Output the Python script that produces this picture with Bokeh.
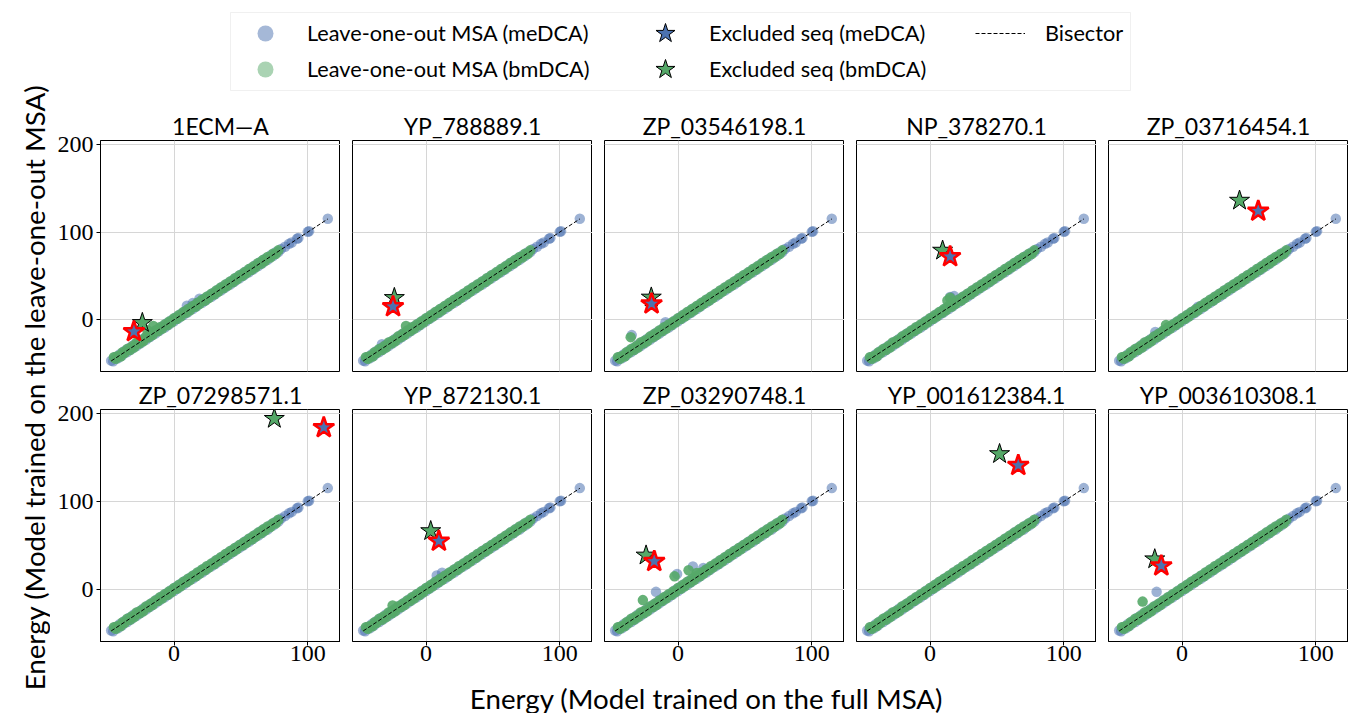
import math
from bokeh.plotting import figure
from bokeh.layouts import column, row
from bokeh.models import Range1d, Legend, LegendItem, Label, BoxAnnotation, FixedTicker
from bokeh.embed import file_html
from bokeh.resources import INLINE

# ---------------- data ----------------
titles = ["1ECM—A", "YP_788889.1", "ZP_03546198.1", "NP_378270.1", "ZP_03716454.1",
          "ZP_07298571.1", "YP_872130.1", "ZP_03290748.1", "YP_001612384.1", "YP_003610308.1"]

# energies of the MSA sequences (full model vs leave-one-out model), meDCA
me_full = [-47, -45.5, -44, -42, -40.5, -39, -37, -35, -33.5, -32,
           -30, -28, -26.5, -25, -23, -21, -19.5, -18, -16, -14,
           -12.5, -11, -9, -7, -5.5, -4, -2, 0, 1.5, 3,
           5, 7, 8.5, 10, 12, 14, 15.5, 17, 19, 21,
           22.5, 24, 26, 28, 29.5, 31, 33, 35, 36.5, 38,
           40, 42, 43.5, 45, 47, 49, 50.5, 52, 54, 56,
           57.5, 59, 61, 63, 64.5, 66, 68, 70, 72, 74,
           76, 78, 80, 83, 86, 88, 92, 93, 100, 101,
           115]
me_loo = [-46.6, -47.3, -42.4, -43.9, -39.2, -40.8, -35.6, -36.9, -32.1, -33.8,
          -28.4, -29.9, -25.1, -26.7, -21.5, -22.8, -18.0, -19.7, -14.6, -15.7,
          -11.1, -12.6, -7.6, -8.8, -4.1, -5.7, -0.6, -1.6, 2.9, 1.4,
          6.5, 5.3, 9.9, 8.4, 13.4, 12.3, 16.9, 15.4, 20.4, 19.3,
          23.9, 22.4, 27.4, 26.3, 30.9, 29.4, 34.4, 33.3, 37.9, 36.4,
          41.4, 40.3, 44.9, 43.4, 48.4, 47.3, 51.9, 50.4, 55.4, 54.3,
          58.9, 57.4, 62.4, 61.3, 65.9, 64.4, 69.4, 68.3, 73.2, 72.6,
          77.1, 77.2, 80.6, 83.4, 86.6, 88.2, 92.4, 93.2, 100.3, 100.9,
          115.2]

# bmDCA
bm_full = [-45, -43.5, -42, -40, -38.5, -37, -35, -33, -31.5, -30,
           -28, -26, -24.5, -23, -21, -19, -17.5, -16, -14, -12,
           -10.5, -9, -7, -5, -3.5, -2, 0, 2, 3.5, 5,
           7, 9, 10.5, 12, 14, 16, 17.5, 19, 21, 23,
           24.5, 26, 28, 30, 31.5, 33, 35, 37, 38.5, 40,
           42, 44, 45.5, 47, 49, 51, 52.5, 54, 56, 58,
           59.5, 61, 63, 65, 66.5, 68, 70, 72, 74, 76,
           78]
bm_loo = [-42.8, -44.5, -41.4, -41.8, -37.1, -37.9, -33.2, -34.4, -30.3, -31.6,
          -26.0, -27.2, -23.4, -24.6, -19.2, -20.1, -16.0, -17.5, -12.3, -13.1,
          -8.6, -10.2, -5.4, -6.3, -1.9, -3.2, 1.8, 0.9, 5.1, 3.8,
          8.9, 7.9, 12.2, 10.8, 15.8, 14.9, 19.3, 17.9, 22.8, 21.8,
          26.4, 24.9, 29.7, 28.8, 33.3, 31.9, 36.8, 35.9, 40.3, 38.8,
          43.8, 42.9, 47.3, 45.8, 50.7, 49.9, 54.1, 52.9, 57.8, 56.9,
          61.2, 59.9, 64.7, 63.9, 68.1, 66.9, 71.6, 70.9, 75.4, 74.9,
          79.2]

# per-panel off-diagonal sequences
extra_me_x = [[9.6, 14, 19], [-33], [-34.6, -9.4], [15, 18], [12, -20], [], [8, 12],
              [-16.5, -0.7, 11.1, 18.9], [], [-19]]
extra_me_y = [[16, 19, 24], [-28], [-17.5, -2.7], [26, 27], [15, -14], [], [16, 19],
              [-2.6, 17.7, 26.3, 24.5], [], [-2.6]]
extra_bm_x = [[-15.5, -20], [-15], [-35.4], [15, 13], [-12], [], [-25],
              [-26.3, -2.6, 7.9, 14], [], [-29.5]]
extra_bm_y = [[-7, -12], [-7], [-19.8], [25, 22], [-6], [], [-18],
              [-12, 15, 21.9, 18.8], [], [-13.7]]

# excluded sequence
star_me_x = [-30, -24.7, -19.8, 15, 57, 112, 9.6, -17.8, 66, -15.5]
star_me_y = [-13.5, 15, 18.2, 72, 124, 184, 55, 32, 141, 27]
star_bm_x = [-23.7, -23.7, -20, 9.4, 43, 75, 3.5, -23.9, 52, -20.4]
star_bm_y = [-3.5, 25, 25.5, 79, 136, 194, 66.5, 38.8, 154, 34.5]

x_ticks = [0, 100]
y_ticks = [0, 100, 200]
x_lim = (-55, 124.5)
y_lim = (-59, 204.5)

# ---------------- style ----------------
BLUE = "#4C72B0"
GREEN = "#55A868"
SANS = "Lato"
SERIF = "Liberation Serif"

PAGE_H = 713
YL_W = 50
RIGHT_W = 1298
LEG_H = 105
FW = 240
ROW1 = dict(top=35, fh=231, bottom=6)
ROW2 = dict(top=29, fh=232, bottom=38)

panels = []
for i, t in enumerate(titles):
    r, c = divmod(i, 5)
    geo = ROW1 if r == 0 else ROW2
    p = figure(frame_width=FW, frame_height=geo["fh"],
               x_range=Range1d(*x_lim), y_range=Range1d(*y_lim),
               min_border_left=50 if c == 0 else 12, min_border_right=0,
               min_border_top=geo["top"], min_border_bottom=geo["bottom"],
               toolbar_location=None, output_backend="svg", title=t)
    p.title.text_font = SANS
    p.title.text_font_size = "23px"
    p.title.text_font_style = "normal"
    p.title.text_color = "black"
    p.title.align = "center"
    p.title.standoff = 2
    p.outline_line_color = "black"
    p.outline_line_width = 1
    p.outline_line_alpha = 1

    p.xaxis.ticker = x_ticks
    p.yaxis.ticker = y_ticks
    p.xgrid.ticker = FixedTicker(ticks=x_ticks)
    p.ygrid.ticker = FixedTicker(ticks=y_ticks)
    for ax in (p.xaxis[0], p.yaxis[0]):
        ax.major_tick_out = 4
        ax.major_tick_in = 0
        ax.minor_tick_line_color = None
        ax.axis_line_color = "black"
        ax.major_tick_line_color = "black"
        ax.major_label_text_font = SERIF
        ax.major_label_text_color = "black"
        ax.major_label_text_font_size = "24px"
    p.yaxis.major_label_standoff = 3
    p.xaxis.major_label_standoff = 0
    if c != 0:
        p.yaxis.visible = False
    if r == 0:
        p.xaxis.visible = False
    p.grid.grid_line_color = "#d6d6d6"
    p.grid.grid_line_width = 1

    p.scatter(me_full + extra_me_x[i], me_loo + extra_me_y[i], size=10.5,
              fill_color=BLUE, fill_alpha=0.55, line_color=None)
    p.scatter(bm_full + extra_bm_x[i], bm_loo + extra_bm_y[i], size=10.5,
              fill_color=GREEN, fill_alpha=0.9, line_color=None)
    lo, hi = min(me_full), max(me_full)
    p.line([lo, hi], [lo, hi], line_color="black", line_dash="4 2", line_width=1)
    p.scatter([star_bm_x[i]], [star_bm_y[i]], marker="star", size=21,
              fill_color=GREEN, line_color="black", line_width=1)
    p.scatter([star_me_x[i]], [star_me_y[i]], marker="star", size=22,
              fill_color=BLUE, line_color="red", line_width=2.5)
    panels.append(p)

grid_h = (ROW1["top"] + ROW1["fh"] + ROW1["bottom"]) + (ROW2["top"] + ROW2["fh"] + ROW2["bottom"])
XL_H = PAGE_H - LEG_H - grid_h

# ---------------- legend ----------------
leg = figure(width=RIGHT_W, height=LEG_H, x_range=Range1d(0, RIGHT_W), y_range=Range1d(0, LEG_H),
             x_axis_type=None, y_axis_type=None, min_border=0,
             toolbar_location=None, output_backend="svg")
leg.outline_line_color = None
leg.grid.visible = False
leg.add_layout(BoxAnnotation(left=230 - YL_W, right=1130 - YL_W, bottom=15, top=93, fill_color="white",
                             fill_alpha=1, line_color="#cccccc", line_width=1))
rc_me = leg.scatter([-100], [-100], size=16, fill_color=BLUE, fill_alpha=0.5, line_color=None)
rc_bm = leg.scatter([-100], [-100], size=16, fill_color=GREEN, fill_alpha=0.5, line_color=None)
rs_me = leg.scatter([-100], [-100], marker="star", size=20, fill_color=BLUE, line_color="black", line_width=1)
rs_bm = leg.scatter([-100], [-100], marker="star", size=20, fill_color=GREEN, line_color="black", line_width=1)
rl = leg.line([-100, -90], [-100, -100], line_color="black", line_dash="4 2", line_width=1)


def add_item(label, rend, x, y, gw, gh, standoff):
    lg = Legend(items=[LegendItem(label=label, renderers=[rend])], location=(x - YL_W, y),
                glyph_width=gw, glyph_height=gh, label_height=gh, label_standoff=standoff,
                padding=0, margin=0, spacing=0, border_line_color=None,
                background_fill_alpha=0, label_text_font=SANS, label_text_font_size="21.7px",
                label_text_color="black")
    leg.add_layout(lg)


row1_cy = LEG_H - 33
row2_cy = LEG_H - 69
add_item("Leave-one-out MSA (meDCA)", rc_me, 240, row1_cy - 20, 50, 40, 17)
add_item("Leave-one-out MSA (bmDCA)", rc_bm, 240, row2_cy - 20, 50, 40, 17)
add_item("Excluded seq (meDCA)", rs_me, 640, row1_cy - 25, 50, 50, 19)
add_item("Excluded seq (bmDCA)", rs_bm, 640, row2_cy - 25, 50, 50, 19)
add_item("Bisector", rl, 975, row1_cy - 20, 50, 40, 20)

# ---------------- shared axis labels ----------------
ylab = figure(width=YL_W, height=PAGE_H, x_range=Range1d(0, YL_W), y_range=Range1d(0, PAGE_H),
              x_axis_type=None, y_axis_type=None, min_border=0,
              toolbar_location=None, output_backend="svg")
ylab.outline_line_color = None
ylab.grid.visible = False
ylab.add_layout(Label(x=34, y=PAGE_H - 387, text="Energy (Model trained on the leave-one-out MSA)",
                      angle=math.pi / 2, text_align="center", text_baseline="middle",
                      text_font=SANS, text_font_size="27.7px", text_color="black"))

xlab = figure(width=RIGHT_W, height=XL_H, x_range=Range1d(0, RIGHT_W), y_range=Range1d(0, XL_H),
              x_axis_type=None, y_axis_type=None, min_border=0,
              toolbar_location=None, output_backend="svg")
xlab.outline_line_color = None
xlab.grid.visible = False
xlab.add_layout(Label(x=706 - YL_W, y=XL_H - (695 - LEG_H - grid_h), text="Energy (Model trained on the full MSA)",
                      text_align="center", text_baseline="middle",
                      text_font=SANS, text_font_size="27.7px", text_color="black"))

layout = row(ylab, column(leg, row(*panels[:5]), row(*panels[5:]), xlab))

open("out.html", "w").write(file_html(layout, INLINE))
